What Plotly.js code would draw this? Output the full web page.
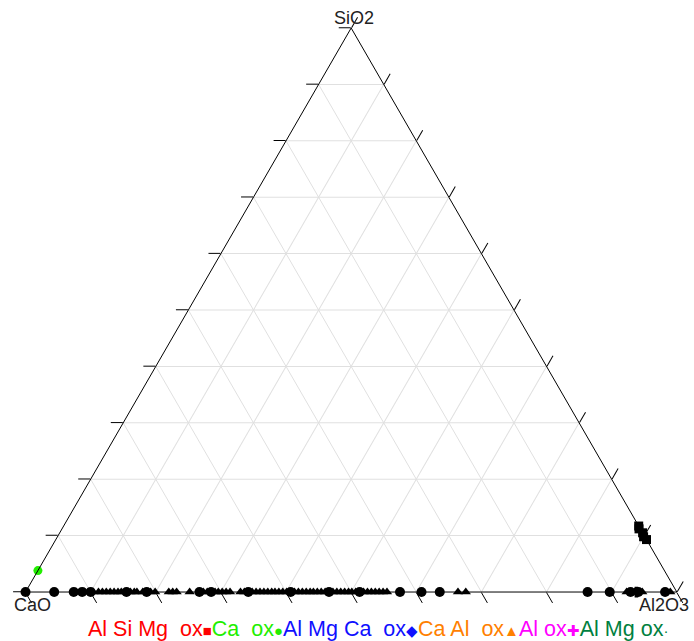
<!DOCTYPE html>
<html>
<head>
<meta charset="utf-8">
<script src="https://cdn.plot.ly/plotly-3.0.1.min.js"></script>
<style>html,body{margin:0;padding:0;background:#fff;}</style>
</head>
<body>
<div id="chart" style="width:694px;height:641px;"></div>
<script>
// Axis (corner) names: a = top, b = bottom-left, c = bottom-right
const axisNames = ['SiO2', 'CaO', 'Al2O3'];

// Series names and legend glyphs
const seriesNames = ['Al Si Mg  ox', 'Ca  ox', 'Al Mg Ca  ox', 'Ca Al  ox', 'Al ox', 'Al Mg ox'];
const legendGlyphs = ['■', '●', '◆', '▲', '✚', '·'];

// Al Si Mg ox (squares near the Al2O3 corner, on the right edge)
const alSiMgSiO2  = [0.117, 0.112, 0.105, 0.098, 0.093];
const alSiMgCaO   = [0.000, 0.002, 0.000, 0.002, 0.000];
const alSiMgAl2O3 = [0.883, 0.886, 0.895, 0.900, 0.907];

// Ca ox (single point on the CaO–SiO2 edge)
const caSiO2  = [0.038];
const caCaO   = [0.962];
const caAl2O3 = [0.000];

// Al Mg Ca ox (round markers on the CaO–Al2O3 edge)
const alMgCaAl2O3 = [0.000, 0.044, 0.074, 0.087, 0.100, 0.155, 0.186, 0.267, 0.285, 0.342,
                     0.407, 0.466, 0.513, 0.575, 0.608, 0.636, 0.863, 0.897, 0.929, 0.941, 0.982];
const alMgCaCaO   = [1.000, 0.956, 0.926, 0.913, 0.900, 0.845, 0.814, 0.733, 0.715, 0.658,
                     0.593, 0.534, 0.487, 0.425, 0.392, 0.364, 0.137, 0.103, 0.071, 0.059, 0.018];
const alMgCaSiO2  = [0, 0, 0, 0, 0, 0, 0, 0, 0, 0, 0, 0, 0, 0, 0, 0, 0, 0, 0, 0, 0];

// Ca Al ox (triangles on the CaO–Al2O3 edge)
const caAlAl2O3 = [0.078, 0.083, 0.091, 0.096, 0.104, 0.112, 0.118, 0.124, 0.130, 0.136,
                   0.142, 0.147, 0.161, 0.167, 0.171, 0.180, 0.192, 0.199, 0.220, 0.226,
                   0.232, 0.252, 0.273, 0.279, 0.291, 0.296, 0.302, 0.308, 0.314, 0.330,
                   0.336, 0.348, 0.354, 0.360, 0.366, 0.372, 0.378, 0.383, 0.389, 0.395,
                   0.401, 0.413, 0.419, 0.425, 0.431, 0.437, 0.442, 0.448, 0.454, 0.460,
                   0.472, 0.478, 0.484, 0.490, 0.496, 0.501, 0.507, 0.519, 0.525, 0.531,
                   0.537, 0.543, 0.549, 0.555, 0.664, 0.676, 0.923, 0.935, 0.947, 0.990];
const caAlCaO   = [0.922, 0.917, 0.909, 0.904, 0.896, 0.888, 0.882, 0.876, 0.870, 0.864,
                   0.858, 0.853, 0.839, 0.833, 0.829, 0.820, 0.808, 0.801, 0.780, 0.774,
                   0.768, 0.748, 0.727, 0.721, 0.709, 0.704, 0.698, 0.692, 0.686, 0.670,
                   0.664, 0.652, 0.646, 0.640, 0.634, 0.628, 0.622, 0.617, 0.611, 0.605,
                   0.599, 0.587, 0.581, 0.575, 0.569, 0.563, 0.558, 0.552, 0.546, 0.540,
                   0.528, 0.522, 0.516, 0.510, 0.504, 0.499, 0.493, 0.481, 0.475, 0.469,
                   0.463, 0.457, 0.451, 0.445, 0.336, 0.324, 0.077, 0.065, 0.053, 0.010];
const caAlSiO2  = caAlCaO.map(() => 0);

// Al ox (cross inside the cluster near Al2O3)
const alSiO2  = [0.000];
const alCaO   = [0.062];
const alAl2O3 = [0.938];

// Al Mg ox (no points visible)
const alMgSiO2 = [], alMgCaO = [], alMgAl2O3 = [];

// ---- styles (kept separate from data) ----
const legendColors = ['#ff0000', '#22ee00', '#1010ff', '#ff8000', '#ff00ff', '#008040'];

const traces = [
  {name: seriesNames[0], a: alSiMgSiO2, b: alSiMgCaO, c: alSiMgAl2O3,
   marker: {symbol: 'square', size: 9, color: '#000'}},
  {name: seriesNames[1], a: caSiO2, b: caCaO, c: caAl2O3,
   marker: {symbol: 'circle', size: 9, color: '#22ee00'}},
  {name: seriesNames[2], a: alMgCaSiO2, b: alMgCaCaO, c: alMgCaAl2O3,
   marker: {symbol: 'circle', size: 10, color: '#000'}},
  {name: seriesNames[3], a: caAlSiO2, b: caAlCaO, c: caAlAl2O3,
   marker: {symbol: 'triangle-up', size: 9, color: '#000'}},
  {name: seriesNames[4], a: alSiO2, b: alCaO, c: alAl2O3,
   marker: {symbol: 'cross', size: 9, color: '#000'}},
  {name: seriesNames[5], a: alMgSiO2, b: alMgCaO, c: alMgAl2O3,
   marker: {symbol: 'circle', size: 3, color: '#000'}}
].map(t => Object.assign({type: 'scatterternary', mode: 'markers', cliponaxis: false}, t));

const axisStyle = {
  showticklabels: false, ticks: 'outside', ticklen: 12, tickwidth: 1, tickcolor: '#000',
  dtick: 0.1, tick0: 0, linecolor: '#000', linewidth: 1,
  showgrid: true, gridcolor: '#e0e0e0', gridwidth: 1, title: {text: ''}
};

const legendText = seriesNames.map((n, i) =>
  '<span style="color:' + legendColors[i] + '">' + n +
  '<span style="font-size:15px">' + legendGlyphs[i] + '</span></span>').join('');

const labelFont = {family: 'Liberation Sans, Arial, sans-serif', size: 18, color: '#222'};

const layout = {
  width: 694, height: 641,
  margin: {l: 0, r: 0, t: 0, b: 0},
  paper_bgcolor: '#fff',
  showlegend: false,
  ternary: {
    sum: 1,
    domain: {x: [0.012, 1], y: [0.0764, 0.9563]},
    bgcolor: '#fff',
    aaxis: Object.assign({}, axisStyle),
    baxis: Object.assign({}, axisStyle),
    caxis: Object.assign({}, axisStyle)
  },
  annotations: [
    {text: axisNames[0], x: 0.510, y: 0.972, xref: 'paper', yref: 'paper',
     xanchor: 'center', yanchor: 'middle', showarrow: false, font: labelFont},
    {text: axisNames[1], x: 0.017, y: 0.056, xref: 'paper', yref: 'paper',
     xanchor: 'left', yanchor: 'middle', showarrow: false, font: labelFont},
    {text: axisNames[2], x: 0.995, y: 0.056, xref: 'paper', yref: 'paper',
     xanchor: 'right', yanchor: 'middle', showarrow: false, font: labelFont},
    {text: legendText, x: 0.545, y: 0.019, xref: 'paper', yref: 'paper',
     xanchor: 'center', yanchor: 'middle', showarrow: false,
     font: {family: 'Liberation Sans, Arial, sans-serif', size: 21.5}}
  ]
};

Plotly.newPlot('chart', traces, layout, {displayModeBar: false, staticPlot: true});
</script>
</body>
</html>
